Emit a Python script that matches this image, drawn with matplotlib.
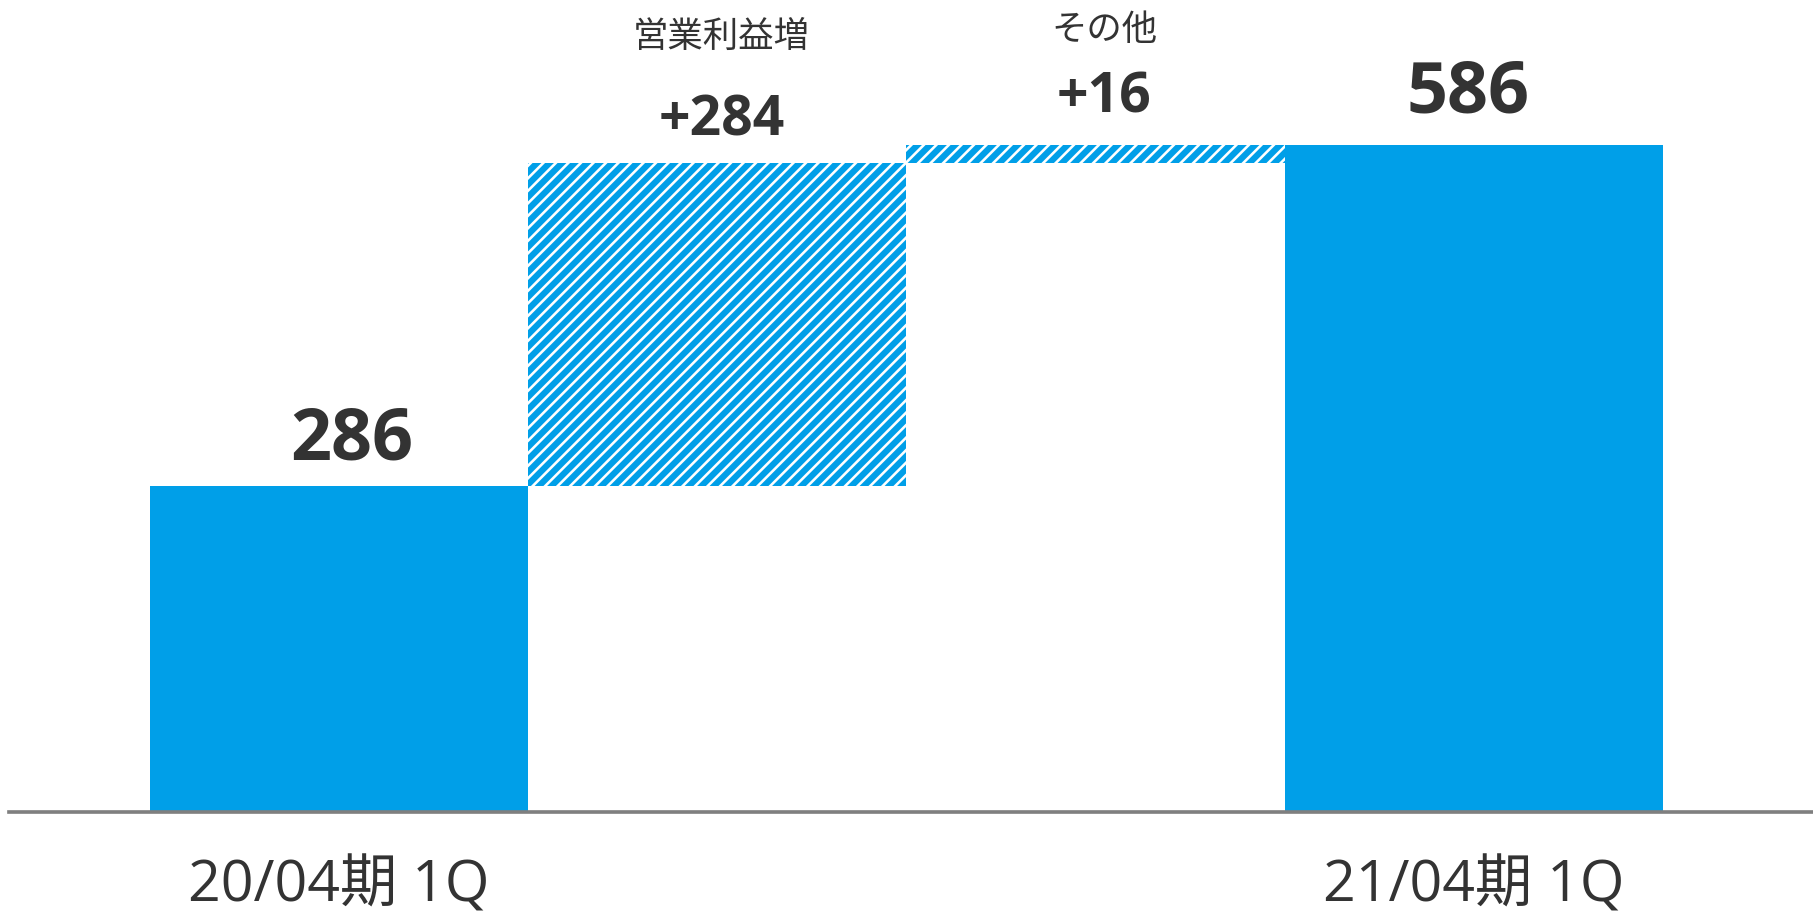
import numpy as np
import matplotlib
matplotlib.use("Agg")
import matplotlib.pyplot as plt

plt.rcParams['font.family'] = ['Noto Sans CJK JP', 'DejaVu Sans']
plt.rcParams['hatch.linewidth'] = 3.0

# 営業利益ブリッジ (百万円)
steps = ['20/04期 1Q', '営業利益増', 'その他', '21/04期 1Q']
start_total = 286
deltas = [284, 16]
end_total = 586

blue = '#009FE8'
text_col = '#333333'
num_font = ['Open Sans', 'DejaVu Sans']
tick_font = ['Open Sans', 'Noto Sans CJK JP']

# bar bottoms / heights for the waterfall
bottoms = [0, start_total, start_total + deltas[0], 0]
heights = [start_total, deltas[0], deltas[1], end_total]
is_total = [True, False, False, True]
x = np.arange(len(steps))

fig = plt.figure(figsize=(1813 / 150, 915 / 150), dpi=150)
ax = fig.add_axes([9 / 1813, 103 / 915, 1 - 9 / 1813, 812 / 915])

for i in range(len(steps)):
    if is_total[i]:
        ax.bar(x[i], heights[i], bottom=bottoms[i], width=1.0, color=blue, linewidth=0)
    else:
        ax.bar(x[i], heights[i], bottom=bottoms[i], width=1.0, facecolor='white',
               edgecolor=blue, hatch='////', linewidth=0)

# label offsets (points): dx for the value, dy above the bar top
dx = [6, 2, 4, -3]
dy = [13, 13, 15.4, 15.4]
for i in range(len(steps)):
    top = bottoms[i] + heights[i]
    if is_total[i]:
        ax.annotate(f'{heights[i]}', (x[i], top), xytext=(dx[i], dy[i]),
                    textcoords='offset points', ha='center', va='baseline',
                    fontsize=34.5, fontweight='bold', color=text_col, family=num_font)
        ax.annotate(steps[i], (x[i], 0), xytext=(0, -43),
                    textcoords='offset points', ha='center', va='baseline',
                    fontsize=27.5, color=text_col, family=tick_font)
    else:
        ax.annotate(f'+{heights[i]}', (x[i], top), xytext=(dx[i], dy[i]),
                    textcoords='offset points', ha='center', va='baseline',
                    fontsize=26.5, fontweight='bold', color=text_col, family=num_font)
        name_off = 42.7 if i == 1 else 35
        ax.annotate(steps[i], (x[i], top), xytext=(dx[i], dy[i] + name_off),
                    textcoords='offset points', ha='center', va='baseline',
                    fontsize=17, color=text_col)

ax.set_xlim(-0.872, 3.896)
ax.set_ylim(0, 713)
for side in ['top', 'left', 'right']:
    ax.spines[side].set_visible(False)
ax.spines['bottom'].set_color('#7F7F7F')
ax.spines['bottom'].set_linewidth(1.75)
ax.set_xticks([])
ax.set_yticks([])

fig.savefig('out.png', dpi=150)
